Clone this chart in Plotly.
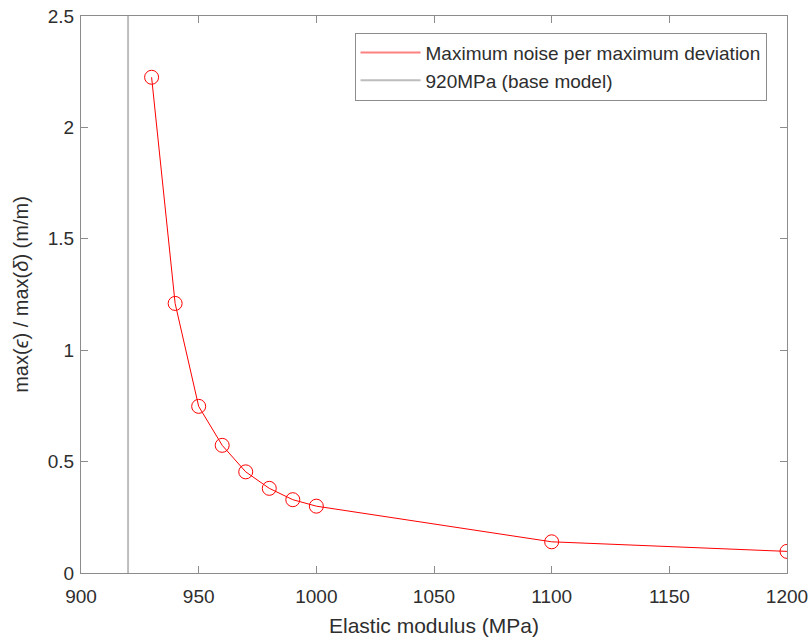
import plotly.graph_objects as go

modulus = [930, 940, 950, 960, 970, 980, 990, 1000, 1100, 1200]
ratio = [2.225, 1.21, 0.748, 0.573, 0.454, 0.38, 0.329, 0.30, 0.14, 0.097]
base_model = 920
y_range = [0, 2.5]
x_range = [900, 1200]
x_ticks = [900, 950, 1000, 1050, 1100, 1150, 1200]
y_ticks = [0, 0.5, 1, 1.5, 2, 2.5]
y_ticktext = ["0", "0.5", "1", "1.5", "2", "2.5"]

txt_col = "#2e2e2e"
font_fam = "Liberation Sans, Arial, Helvetica"
red = "#ff0000"
grey_line = "#bdbdbd"

fig = go.Figure()
fig.add_trace(go.Scatter(
    x=modulus, y=ratio, mode="lines+markers", showlegend=False,
    line=dict(color=red, width=1),
    marker=dict(symbol="circle-open", size=14, color=red, line=dict(width=1)),
))
fig.add_trace(go.Scatter(
    x=[base_model, base_model], y=y_range, mode="lines", showlegend=False,
    line=dict(color=grey_line, width=2),
))
# legend entries (line only, like the reference)
fig.add_trace(go.Scatter(x=[None], y=[None], mode="lines",
                         name="Maximum noise per maximum deviation",
                         line=dict(color="#ff8080", width=2)))
fig.add_trace(go.Scatter(x=[None], y=[None], mode="lines",
                         name="920MPa (base model)",
                         line=dict(color=grey_line, width=2)))

axcommon = dict(
    showgrid=False, zeroline=False, showline=True, mirror="ticks",
    linecolor="#8c8c8c", linewidth=1, ticks="inside", ticklen=7,
    tickcolor="#8c8c8c", automargin=False,
    tickfont=dict(family=font_fam, size=19, color=txt_col),
)
fig.update_xaxes(range=x_range, tickvals=x_ticks, ticklabelstandoff=6,
                 title=dict(text="Elastic modulus (MPa)",
                            font=dict(family=font_fam, size=21, color=txt_col), standoff=12),
                 **axcommon)
fig.update_yaxes(range=y_range, tickvals=y_ticks, ticktext=y_ticktext, ticklabelstandoff=2,
                 title=dict(text="max(<i>ϵ</i>) / max(<i>δ</i>) (m/m)",
                            font=dict(family=font_fam, size=20, color=txt_col), standoff=13),
                 **axcommon)
fig.update_layout(
    width=811, height=641,
    margin=dict(l=81, r=24, t=16, b=68),
    plot_bgcolor="white", paper_bgcolor="white",
    showlegend=True,
    legend=dict(x=0.971, y=0.97, xanchor="right", yanchor="top",
                bgcolor="white", bordercolor="#8c8c8c", borderwidth=1,
                font=dict(family=font_fam, size=19, color=txt_col),
                tracegroupgap=0, itemwidth=60),
)
fig.write_html("out.html")
